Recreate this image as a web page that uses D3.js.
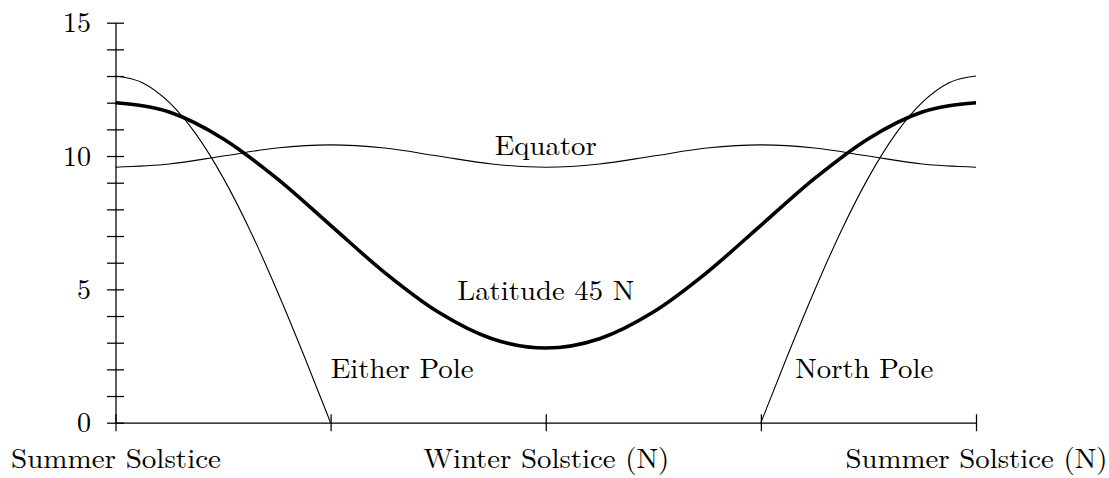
<!DOCTYPE html>
<html>
<head>
<meta charset="utf-8">
<script src="https://cdn.jsdelivr.net/npm/d3@7"></script>
</head>
<body style="margin:0; background:#fff">
<svg id="chart" width="1109" height="478" style="display:block"></svg>
<script>
// Hours of daylight over the year (year fraction from the June solstice)
const seasonTicks = [0, 0.25, 0.5, 0.75, 1];
const seasonLabels = ["Summer Solstice", "", "Winter Solstice (N)", "", "Summer Solstice (N)"];
const seasonLabelWidths = [210, 0, 246, 0, 262];
const hourTicks = [0, 1, 2, 3, 4, 5, 6, 7, 8, 9, 10, 11, 12, 13, 14, 15];
const hourLabels = [0, 5, 10, 15];

const yearFrac = [0, 0.0625, 0.125, 0.1875, 0.25, 0.3125, 0.375, 0.4375, 0.5,
                  0.5625, 0.625, 0.6875, 0.75, 0.8125, 0.875, 0.9375, 1];
const equatorHours = [9.58, 9.70, 10.00, 10.30, 10.42, 10.30, 10.00, 9.70, 9.58,
                      9.70, 10.00, 10.30, 10.42, 10.30, 10.00, 9.70, 9.58];
const lat45Hours = [12.00, 11.65, 10.65, 9.16, 7.40, 5.64, 4.15, 3.15, 2.80,
                    3.15, 4.15, 5.64, 7.40, 9.16, 10.65, 11.65, 12.00];

const eitherPoleFrac = [0, 0.03125, 0.0625, 0.09375, 0.125, 0.15625, 0.1875, 0.21875, 0.25];
const eitherPoleHours = [13.00, 12.75, 12.01, 10.81, 9.19, 7.22, 4.97, 2.54, 0];
const northPoleFrac = [0.75, 0.78125, 0.8125, 0.84375, 0.875, 0.90625, 0.9375, 0.96875, 1];
const northPoleHours = [0, 2.54, 4.97, 7.22, 9.19, 10.81, 12.01, 12.75, 13.00];

const curveLabels = [
  { text: "Equator",       frac: 0.5,  hours: 10.05, anchor: "middle", width: 102 },
  { text: "Latitude 45 N", frac: 0.5,  hours: 4.60,  anchor: "middle", width: 177 },
  { text: "Either Pole",   frac: 0.25, hours: 1.67,  anchor: "start",  width: 143 },
  { text: "North Pole",    frac: 0.79, hours: 1.67,  anchor: "start",  width: 138 }
];

const svg = d3.select("#chart");
const x = d3.scaleLinear().domain([0, 1]).range([115.5, 976]);
const y = d3.scaleLinear().domain([0, 15]).range([422.7, 22.7]);
const tick = 8.5;
const serif = "'Latin Modern Roman', 'Liberation Serif', serif";
const fontSize = 28;

// Y axis: ticks cross the axis line
const yAxis = svg.append("g")
  .attr("transform", `translate(${x(0)},0)`)
  .call(d3.axisLeft(y)
    .tickValues(hourTicks)
    .tickSize(tick)
    .tickSizeOuter(0)
    .tickPadding(16)
    .tickFormat(d => hourLabels.includes(d) ? d : ""));
yAxis.selectAll(".tick line").attr("x1", tick).attr("x2", -tick)
  .attr("stroke", "#000").attr("stroke-width", 1.25);
yAxis.select(".domain").attr("stroke", "#000").attr("stroke-width", 1.25);
yAxis.selectAll("text")
  .style("font-family", serif)
  .attr("font-size", fontSize)
  .attr("fill", "#000")
  .attr("dy", "0.32em");

// X axis
const xAxis = svg.append("g")
  .attr("transform", `translate(0,${y(0)})`)
  .call(d3.axisBottom(x)
    .tickValues(seasonTicks)
    .tickSize(tick)
    .tickSizeOuter(0)
    .tickFormat((d, i) => seasonLabels[i]));
xAxis.selectAll(".tick line").attr("y1", -tick).attr("y2", tick)
  .attr("stroke", "#000").attr("stroke-width", 1.25);
xAxis.select(".domain").attr("stroke", "#000").attr("stroke-width", 1.25);
xAxis.selectAll("text")
  .style("font-family", serif)
  .attr("font-size", fontSize)
  .attr("fill", "#000")
  .attr("y", 468.5 - y(0)).attr("dy", 0)
  .each(function(d, i) {
    if (seasonLabels[i]) {
      d3.select(this).attr("textLength", seasonLabelWidths[i]).attr("lengthAdjust", "spacingAndGlyphs");
    }
  });

// Curves
const line = d3.line().x(d => x(d[0])).y(d => y(d[1])).curve(d3.curveMonotoneX);
const series = [
  { frac: yearFrac, hours: equatorHours, width: 1.1 },
  { frac: eitherPoleFrac, hours: eitherPoleHours, width: 1.1 },
  { frac: northPoleFrac, hours: northPoleHours, width: 1.1 },
  { frac: yearFrac, hours: lat45Hours, width: 3.6 }
];
svg.append("g").selectAll("path")
  .data(series)
  .join("path")
  .attr("d", s => line(s.frac.map((f, i) => [f, s.hours[i]])))
  .attr("fill", "none")
  .attr("stroke", "#000")
  .attr("stroke-width", s => s.width)
  .attr("stroke-linejoin", "round");

// Curve names
svg.append("g").selectAll("text")
  .data(curveLabels)
  .join("text")
  .style("font-family", serif)
  .attr("font-size", fontSize)
  .attr("fill", "#000")
  .attr("x", d => x(d.frac))
  .attr("y", d => y(d.hours))
  .attr("text-anchor", d => d.anchor)
  .attr("textLength", d => d.width)
  .attr("lengthAdjust", "spacingAndGlyphs")
  .text(d => d.text);
</script>
</body>
</html>
